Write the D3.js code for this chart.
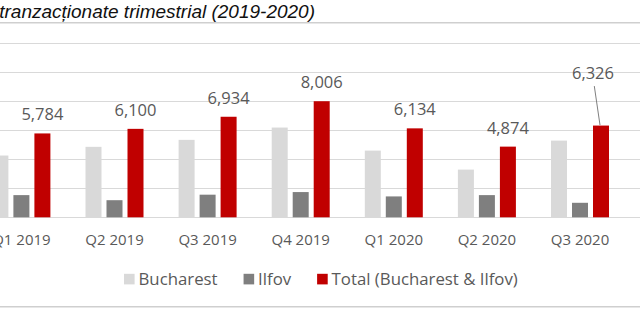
<!DOCTYPE html>
<html>
<head>
<meta charset="utf-8">
<script src="https://cdn.jsdelivr.net/npm/d3@7"></script>
<style>
  html, body { margin: 0; padding: 0; background: #fff; overflow: hidden; }
  svg { display: block; }
</style>
</head>
<body>
<svg id="chart" width="640" height="323"></svg>
<script>
// Quarterly transactions, Bucharest vs Ilfov
const categories = ["Q1 2019", "Q2 2019", "Q3 2019", "Q4 2019", "Q1 2020", "Q2 2020", "Q3 2020"];
const bucharest = [4260, 4860, 5340, 6190, 4600, 3290, 5290];
const ilfov = [1530, 1180, 1560, 1740, 1440, 1530, 1000];
const total = [5784, 6100, 6934, 8006, 6134, 4874, 6326];
const seriesNames = ["Bucharest", "Ilfov", "Total (Bucharest & Ilfov)"];
const yTicks = [0, 2000, 4000, 6000, 8000, 10000, 12000];
const titleText = "Unități tranzacționate trimestrial (2019-2020)";

const W = 640, H = 323;
const colors = ["#d9d9d9", "#7f7f7f", "#c00000"];
const textColor = "#595959";
const font = "'Open Sans', 'Noto Sans', sans-serif";

const svg = d3.select("#chart");
svg.append("rect").attr("width", W).attr("height", H).attr("fill", "#fff");

// Title and frame rules
svg.append("text")
  .attr("x", 315).attr("y", 18)
  .attr("text-anchor", "end")
  .attr("font-family", "'Liberation Sans', Arial, sans-serif")
  .attr("font-style", "italic")
  .attr("font-size", 19)
  .attr("fill", "#111")
  .text(titleText);

svg.append("line").attr("x1", 0).attr("x2", W).attr("y1", 22.7).attr("y2", 22.7)
  .attr("stroke", "#cfcfcf").attr("stroke-width", 1.5);
svg.append("line").attr("x1", 0).attr("x2", W).attr("y1", 306.7).attr("y2", 306.7)
  .attr("stroke", "#cfcfcf").attr("stroke-width", 1.5);

// Scales
const step = 93.1;
const x0Start = 21.4 - step / 2;
const x0 = d3.scaleBand()
  .domain(categories)
  .range([x0Start, x0Start + step * categories.length])
  .padding(0);

const x1 = d3.scaleBand()
  .domain(seriesNames)
  .range([0, x0.bandwidth()])
  .paddingInner(5 / 21)
  .paddingOuter(((x0.bandwidth() / 21) - (3 - 5 / 21)) / 2);

const y = d3.scaleLinear().domain([0, 12000]).range([217.3, 43.3]);

// Gridlines
svg.append("g")
  .selectAll("line")
  .data(yTicks)
  .join("line")
  .attr("x1", 0).attr("x2", W)
  .attr("y1", d => Math.round(y(d)) + 0.5)
  .attr("y2", d => Math.round(y(d)) + 0.5)
  .attr("stroke", "#d9d9d9")
  .attr("stroke-width", 1.2);

// Bars
const rows = categories.map((c, i) => ({
  cat: c,
  vals: [bucharest[i], ilfov[i], total[i]]
}));

const groups = svg.append("g")
  .selectAll("g")
  .data(rows)
  .join("g")
  .attr("transform", d => `translate(${x0(d.cat)},0)`);

groups.selectAll("rect")
  .data(d => d.vals.map((v, k) => ({ key: seriesNames[k], v, k })))
  .join("rect")
  .attr("x", d => x1(d.key))
  .attr("width", x1.bandwidth())
  .attr("y", d => y(d.v))
  .attr("height", d => y(0) - y(d.v))
  .attr("fill", d => colors[d.k]);

// Category axis
const xAxis = d3.axisBottom(x0).tickSize(0).tickPadding(0);
const axisG = svg.append("g")
  .attr("transform", `translate(0, ${y(0)})`)
  .call(xAxis);
axisG.select(".domain").remove();
axisG.selectAll("text")
  .attr("dy", null)
  .attr("y", 28)
  .attr("font-family", font)
  .attr("font-size", 15)
  .attr("fill", textColor);

// Value labels on the totals; the last one sits higher with a leader line
const fmt = d3.format(",");
const labelShift = { "Q3 2020": { dx: -8, dy: -34 } };
const labelG = svg.append("g");
rows.forEach((r, i) => {
  const cx = x0(r.cat) + x1(seriesNames[2]) + x1.bandwidth() / 2;
  const top = y(total[i]);
  const s = labelShift[r.cat] || { dx: 0, dy: 0 };
  const lx = cx + s.dx, ly = top - 13 + s.dy;
  labelG.append("text")
    .attr("x", lx).attr("y", ly)
    .attr("text-anchor", "middle")
    .attr("font-family", font)
    .attr("font-size", 16.5)
    .attr("fill", textColor)
    .text(fmt(total[i]));
  if (labelShift[r.cat]) {
    labelG.append("line")
      .attr("x1", lx + 1.3).attr("y1", ly + 7.5)
      .attr("x2", cx - 1).attr("y2", top - 0.5)
      .attr("stroke", "#7f7f7f").attr("stroke-width", 1);
  }
});

// Legend
const legend = svg.append("g");
let lx = 124;
seriesNames.forEach((name, k) => {
  legend.append("rect")
    .attr("x", lx).attr("y", 273.8)
    .attr("width", 10.6).attr("height", 10.6)
    .attr("fill", colors[k]);
  const t = legend.append("text")
    .attr("x", lx + 14.5).attr("y", 285)
    .attr("font-family", font)
    .attr("font-size", 16.8)
    .attr("fill", textColor)
    .text(name);
  lx += 14.5 + t.node().getComputedTextLength() + 26;
});
</script>
</body>
</html>
